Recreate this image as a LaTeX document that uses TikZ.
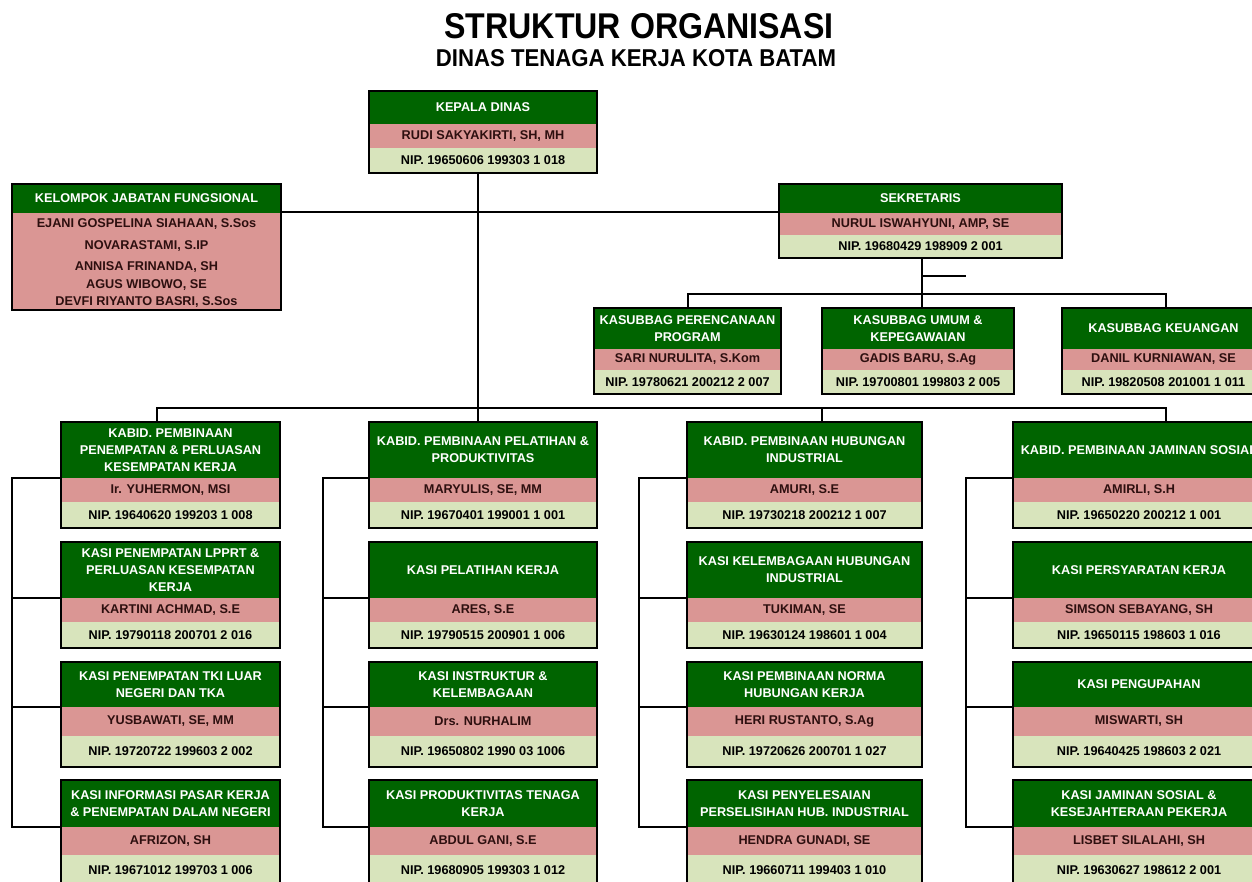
\documentclass[tikz,border=0pt]{standalone}
\usepackage{fontspec}
\setmainfont{Liberation Sans}
\definecolor{hdr}{RGB}{0,100,0}
\definecolor{pnk}{RGB}{218,150,148}
\definecolor{lgt}{RGB}{216,228,188}
\definecolor{ptx}{RGB}{45,15,15}
\def\setrows#1/#2/#3/#4\relax{\def\yt{#1}\def\yg{#2}\def\yp{#3}\def\yb{#4}}
\tikzset{
  txt/.style={inner sep=0pt, align=center, font=\bfseries\fontsize{12.7}{17}\selectfont},
  htext/.style={txt, text=white},
  ptext/.style={txt, text=ptx},
  ntext/.style={txt, text=black},
  frame/.style={draw=black, line width=2pt, inner sep=0pt, outer sep=0pt, anchor=north west},
  conn/.style={draw=black, line width=2pt, line join=miter}
}
% name, x1, x2, rows yt/yg/yp/yb, header, person, nip
\newcommand\obox[7]{%
  \setrows#4\relax
  \fill[hdr] (#2,\yt) rectangle (#3,\yg);
  \fill[pnk] (#2,\yg) rectangle (#3,\yp);
  \fill[lgt] (#2,\yp) rectangle (#3,\yb);
  \node[htext] (#1-h) at ({(#2+#3)/2},{(\yt+\yg)/2}) {#5};
  \node[ptext] (#1-p) at ({(#2+#3)/2},{(\yg+\yp)/2}) {#6};
  \node[ntext] (#1-n) at ({(#2+#3)/2},{(\yp+\yb)/2}) {#7};
  \coordinate (#1-g) at (#2,\yg);
  \node[frame, minimum width={#3-#2}, minimum height={\yb-\yt}] (#1) at (#2,\yt) {};
}
\begin{document}
\begin{tikzpicture}[x=1pt,y=-1pt]
\useasboundingbox (0,0) rectangle (1252,882);
\clip (0,0) rectangle (1252,882);
\fill[white] (0,0) rectangle (1252,882);

% titles
\node[inner sep=0pt, anchor=base] (title) at (639,38.5) {\resizebox{389pt}{25pt}{\bfseries STRUKTUR ORGANISASI}};
\node[inner sep=0pt, anchor=base] (subtitle) at (636,66.5) {\resizebox{400pt}{17pt}{\bfseries DINAS TENAGA KERJA KOTA BATAM}};

% top
\obox{kadis}{369}{597}{91/124/148/173}{KEPALA DINAS}{RUDI SAKYAKIRTI, SH, MH}{NIP. 19650606 199303 1 018}
\obox{sek}{779}{1062}{184/213/235/258}{SEKRETARIS}{NURUL ISWAHYUNI, AMP, SE}{NIP. 19680429 198909 2 001}

% kelompok jabatan fungsional
\fill[hdr] (12,184) rectangle (281,213);
\fill[pnk] (12,213) rectangle (281,310);
\node[htext] (kjf-h) at (146.5,198.5) {KELOMPOK JABATAN FUNGSIONAL};
\node[ptext] (kjf-1) at (146.5,224) {EJANI GOSPELINA SIAHAAN, S.Sos};
\node[ptext] (kjf-2) at (146.5,246) {NOVARASTAMI, S.IP};
\node[ptext] (kjf-3) at (146.5,267) {ANNISA FRINANDA, SH};
\node[ptext] (kjf-4) at (146.5,285) {AGUS WIBOWO, SE};
\node[ptext] (kjf-5) at (146.5,302) {DEVFI RIYANTO BASRI, S.Sos};
\node[frame, minimum width=269pt, minimum height=126pt] (kjf) at (12,184) {};

% kasubbag
\obox{ksb1}{594}{781}{308/349/370/394}{KASUBBAG PERENCANAAN\\PROGRAM}{SARI NURULITA, S.Kom}{NIP. 19780621 200212 2 007}
\obox{ksb2}{822}{1014}{308/349/370/394}{KASUBBAG UMUM \&\\KEPEGAWAIAN}{GADIS BARU, S.Ag}{NIP. 19700801 199803 2 005}
\obox{ksb3}{1062}{1265}{308/349/370/394}{KASUBBAG KEUANGAN}{DANIL KURNIAWAN, SE}{NIP. 19820508 201001 1 011}

% column 1
\obox{c1a}{61}{280}{422/478/502/528}{KABID. PEMBINAAN\\PENEMPATAN \& PERLUASAN\\KESEMPATAN KERJA}{Ir. YUHERMON, MSI}{NIP. 19640620 199203 1 008}
\obox{c1b}{61}{280}{542/598/622/648}{KASI PENEMPATAN LPPRT \&\\PERLUASAN KESEMPATAN\\KERJA}{KARTINI ACHMAD, S.E}{NIP. 19790118 200701 2 016}
\obox{c1c}{61}{280}{662/707/736/767}{KASI PENEMPATAN TKI LUAR\\NEGERI DAN TKA}{YUSBAWATI, SE, MM}{NIP. 19720722 199603 2 002}
\obox{c1d}{61}{280}{780/827/855/886}{KASI INFORMASI PASAR KERJA\\\& PENEMPATAN DALAM NEGERI}{AFRIZON, SH}{NIP. 19671012 199703 1 006}

% column 2
\obox{c2a}{369}{597}{422/478/502/528}{KABID. PEMBINAAN PELATIHAN \&\\PRODUKTIVITAS}{MARYULIS, SE, MM}{NIP. 19670401 199001 1 001}
\obox{c2b}{369}{597}{542/598/622/648}{KASI PELATIHAN KERJA}{ARES, S.E}{NIP. 19790515 200901 1 006}
\obox{c2c}{369}{597}{662/707/736/767}{KASI INSTRUKTUR \&\\KELEMBAGAAN}{Drs. NURHALIM}{NIP. 19650802 1990 03 1006}
\obox{c2d}{369}{597}{780/827/855/886}{KASI PRODUKTIVITAS TENAGA\\KERJA}{ABDUL GANI, S.E}{NIP. 19680905 199303 1 012}

% column 3
\obox{c3a}{687}{922}{422/478/502/528}{KABID. PEMBINAAN HUBUNGAN\\INDUSTRIAL}{AMURI, S.E}{NIP. 19730218 200212 1 007}
\obox{c3b}{687}{922}{542/598/622/648}{KASI KELEMBAGAAN HUBUNGAN\\INDUSTRIAL}{TUKIMAN, SE}{NIP. 19630124 198601 1 004}
\obox{c3c}{687}{922}{662/707/736/767}{KASI PEMBINAAN NORMA\\HUBUNGAN KERJA}{HERI RUSTANTO, S.Ag}{NIP. 19720626 200701 1 027}
\obox{c3d}{687}{922}{780/827/855/886}{KASI PENYELESAIAN\\PERSELISIHAN HUB. INDUSTRIAL}{HENDRA GUNADI, SE}{NIP. 19660711 199403 1 010}

% column 4
\obox{c4a}{1013}{1265}{422/478/502/528}{KABID. PEMBINAAN JAMINAN SOSIAL}{AMIRLI, S.H}{NIP. 19650220 200212 1 001}
\obox{c4b}{1013}{1265}{542/598/622/648}{KASI PERSYARATAN KERJA}{SIMSON SEBAYANG, SH}{NIP. 19650115 198603 1 016}
\obox{c4c}{1013}{1265}{662/707/736/767}{KASI PENGUPAHAN}{MISWARTI, SH}{NIP. 19640425 198603 2 021}
\obox{c4d}{1013}{1265}{780/827/855/886}{KASI JAMINAN SOSIAL \&\\KESEJAHTERAAN PEKERJA}{LISBET SILALAHI, SH}{NIP. 19630627 198612 2 001}

% connector reference points
\coordinate (vK) at (478,408);
\coordinate (hF) at (0,212);
\coordinate (vS) at (922,294);
\coordinate (stub) at (966,276);
\coordinate (bL) at (688,294);
\coordinate (bR) at (1166,294);
\coordinate (k1) at (157,408);
\coordinate (k3) at (822,408);
\coordinate (k4) at (1166,408);
\coordinate (br1) at (12,0);
\coordinate (br2) at (323,0);
\coordinate (br3) at (639,0);
\coordinate (br4) at (966,0);

% connectors
\draw[conn] (kadis.south -| vK) -- (c2a.north -| vK);
\draw[conn] (kjf.east |- hF) -- (sek.west |- hF);
\draw[conn] (sek.south -| vS) -- (ksb2.north -| vS);
\draw[conn] (vS |- stub) -- (stub);
\draw[conn] (ksb1.north -| bL) -- (bL) -- (bR) -- (ksb3.north -| bR);
\draw[conn] (c1a.north -| k1) -- (k1) -- (k4) -- (c4a.north -| k4);
\draw[conn] (k3) -- (c3a.north -| k3);

\foreach \c/\b in {c1/br1, c2/br2, c3/br3, c4/br4}{
  \draw[conn] (\c a-g) -- (\c a-g -| \b) -- (\c d-g -| \b) -- (\c d-g);
  \draw[conn] (\c b-g -| \b) -- (\c b-g);
  \draw[conn] (\c c-g -| \b) -- (\c c-g);
}
\end{tikzpicture}
\end{document}
